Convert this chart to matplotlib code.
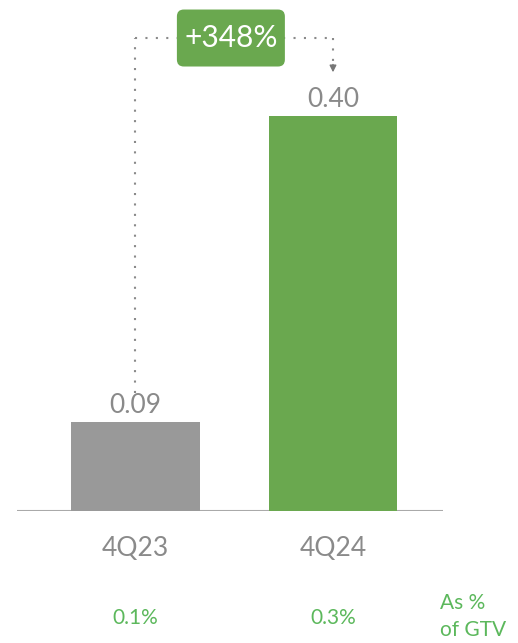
import matplotlib
matplotlib.use("Agg")
import matplotlib.pyplot as plt
from matplotlib.patches import FancyBboxPatch

plt.rcParams['font.family'] = ['Lato', 'DejaVu Sans']

quarters = ['4Q23', '4Q24']
values = [0.09, 0.40]
gtv_share = ['0.1%', '0.3%']
growth = '+348%'

bar_colors = ['#999999', '#6aa84f']
green = '#6aa84f'
text_gray = '#8a8a8a'
light_green = '#5cb85c'

W, H = 518, 643
fig = plt.figure(figsize=(W / 100, H / 100), dpi=100)
# axes spans the baseline line, bars at x=0 and x=1
ax = fig.add_axes([17 / W, 132 / H, 426 / W, 511 / H])
ax.set_xlim(-0.6, 1.557)
ax.set_ylim(0, 0.5175)
ax.axis('off')

ax.bar(range(len(values)), values, width=0.653, color=bar_colors, zorder=2)
ax.axhline(0, color='#aaaaaa', lw=1.5, zorder=1)

for i, v in enumerate(values):
    ax.annotate(f'{v:.2f}', (i, v), xytext=(0, 3), textcoords='offset points',
                ha='center', va='bottom', fontsize=19, color=text_gray)
    ax.annotate(quarters[i], (i, 0), xytext=(0, -27), textcoords='offset points',
                ha='center', va='center', fontsize=19, color=text_gray)
    ax.annotate(gtv_share[i], (i, 0), xytext=(0, -77), textcoords='offset points',
                ha='center', va='center', fontsize=15, color=light_green)

fig.text(440 / W, 1 - 603 / H, 'As %', ha='left', va='center', fontsize=15,
         color=light_green)
fig.text(440 / W, 1 - 630 / H, 'of GTV', ha='left', va='center', fontsize=15,
         color=light_green)

# dotted bracket from the 4Q23 bar to the 4Q24 bar
y_top = 0.479
x_box = 0.483
dot = dict(color='#8a8a8a', lw=1.5, linestyle=(0, (1, 4)), zorder=3)
ax.plot([0, 0], [0.119, y_top], **dot)
ax.plot([0, x_box], [y_top, y_top], **dot)
ax.plot([x_box, 1], [y_top, y_top], **dot)
ax.plot([1, 1], [y_top, 0.452], **dot)
ax.annotate('', xy=(1, 0.4415), xytext=(1, 0.455),
            arrowprops=dict(arrowstyle='-|>', color='#777777', lw=1,
                            mutation_scale=10))

bw, bh = 108 / 197.5, 57 / 987.5
box = FancyBboxPatch((x_box - bw / 2, y_top - bh / 2), bw, bh,
                     boxstyle='round,pad=0,rounding_size=0.035',
                     mutation_aspect=0.2, fc=green, ec='none', zorder=4,
                     clip_on=False)
ax.add_patch(box)
ax.text(x_box, y_top, growth, ha='center', va='center', fontsize=21.5,
        color='white', zorder=5)

fig.savefig('out.png', dpi=100)
